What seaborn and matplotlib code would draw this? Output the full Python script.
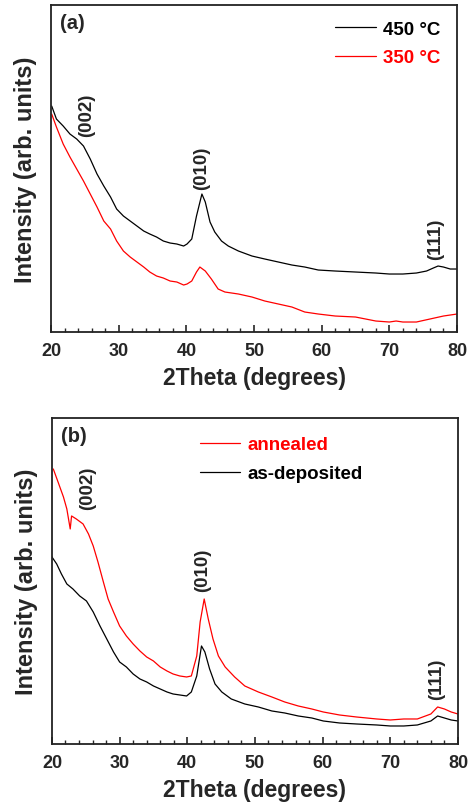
import matplotlib
matplotlib.use("Agg")
import matplotlib.pyplot as plt
import seaborn as sns
import pandas as pd
from matplotlib.ticker import MultipleLocator

# ---- data (arbitrary intensity units) ----
a_x_450 = [20.1, 20.8, 21.8, 22.8, 23.8, 24.8, 25.8, 26.8, 27.8, 28.8, 29.7, 30.7, 31.7, 32.7, 33.7, 34.6, 35.6,
           36.6, 37.6, 38.6, 39.6, 40.1, 40.8, 41.5, 42.3, 42.8, 43.5, 44.2, 45.2, 46.2, 47.7, 49.7, 51.6, 53.6,
           55.6, 57.5, 59.5, 62, 65, 68, 70, 72, 74, 75.5, 76.5, 77.2, 78, 79, 80]
a_y_450 = [226, 213, 206, 198, 193, 186, 173, 158, 146, 135, 123, 116, 111, 106, 101, 98, 95,
           91, 89, 88, 86, 88, 93, 116, 138, 130, 110, 100, 91, 86, 81, 76, 73, 70,
           67, 65, 62, 61, 60, 59, 58, 58, 59, 61, 64, 66, 65, 63, 63]
a_x_350 = [20.1, 20.8, 21.8, 22.8, 23.8, 24.8, 25.8, 26.8, 27.8, 28.8, 29.7, 30.7, 31.7, 32.7, 33.7, 34.6, 35.6,
           36.6, 37.6, 38.6, 39.6, 40.1, 40.8, 41.5, 42.0, 42.8, 43.7, 44.7, 45.7, 47.7, 49.7, 51.6, 53.6,
           55.6, 57.5, 59.5, 62, 65, 68, 70, 71, 72, 74, 76, 78, 80]
a_y_350 = [218, 205, 188, 175, 163, 151, 138, 125, 111, 103, 91, 81, 75, 70, 65, 60, 56,
           54, 51, 50, 47, 48, 51, 60, 65, 61, 53, 43, 40, 38, 35, 31, 28,
           25, 20, 18, 16, 15, 11, 10, 11, 10, 10, 13, 16, 18]

b_x_ann = [20.2, 20.9, 21.7, 22.2, 22.7, 22.9, 23.6, 24.6, 25.4, 26.1, 26.8, 27.6, 28.3, 29.1, 30.0, 31.0, 32.0,
           33.0, 34.0, 35.0, 36.0, 37.0, 37.9, 38.9, 39.9, 40.6, 41.4, 41.9, 42.5, 43.1, 43.8, 44.6, 45.6,
           47.0, 48.5, 50.5, 52.5, 54.4, 56.4, 58.4, 60.1, 62.5, 65, 68, 70, 72, 74, 76, 77, 78, 79, 80]
b_y_ann = [275, 262, 247, 235, 215, 228, 225, 220, 210, 198, 182, 162, 145, 132, 118, 108, 100,
           93, 87, 83, 77, 73, 70, 68, 67, 68, 88, 122, 145, 125, 105, 88, 77,
           67, 58, 52, 47, 42, 38, 35, 32, 29, 27, 25, 24, 25, 25, 30, 37, 35, 32, 30]
b_x_dep = [19.9, 20.7, 21.4, 22.2, 23.1, 24.1, 25.1, 26.1, 27.1, 28.1, 29.1, 30.0, 31.0, 32.0, 33.0, 34.0, 35.0,
           36.0, 37.0, 37.9, 38.9, 39.9, 40.6, 41.4, 42.1, 42.6, 43.3, 44.1, 45.1, 46.5, 48.5, 50.5, 52.5,
           54.4, 56.4, 58.4, 60.1, 62.5, 65, 68, 70, 72, 74, 76, 77, 78, 79, 80]
b_y_dep = [188, 180, 170, 160, 155, 148, 143, 132, 118, 105, 92, 82, 77, 70, 65, 62, 58,
           55, 52, 50, 49, 48, 52, 68, 98, 92, 75, 60, 52, 45, 40, 37, 33,
           31, 28, 26, 23, 21, 20, 19, 18, 18, 19, 23, 28, 26, 24, 23]

peak_labels = ["(002)", "(010)", "(111)"]
peak_pos = [25.2, 42.3, 76.9]
a_label_y = [196, 143, 73]
b_label_y = [235, 153, 45]

FONT = ["Liberation Sans", "DejaVu Sans"]
sns.set_theme(style="ticks")
plt.rcParams["font.family"] = FONT
plt.rcParams["font.weight"] = "bold"

fig = plt.figure(figsize=(4.68, 8.04), dpi=100)
ax_a = fig.add_axes([0.109, 0.5858, 0.8675, 0.4067])
ax_b = fig.add_axes([0.111, 0.0734, 0.8675, 0.4055])


def style_axis(ax, ymax):
    ax.set_xlim(20, 80)
    ax.set_ylim(0, ymax)
    ax.set_yticks([])
    ax.xaxis.set_major_locator(MultipleLocator(10))
    ax.xaxis.set_minor_locator(MultipleLocator(2))
    ax.tick_params(axis="x", which="major", direction="in", length=5, width=1.2,
                   labelsize=13, pad=7, top=False)
    ax.tick_params(axis="x", which="minor", direction="in", length=3, width=1.0, top=False)
    for lab in ax.get_xticklabels():
        lab.set_fontweight("bold")
    for s in ax.spines.values():
        s.set_visible(True)
        s.set_linewidth(1.3)
        s.set_color("#222222")
    ax.set_xlabel("2Theta (degrees)", fontsize=16.5, fontweight="bold", labelpad=5)
    ax.set_ylabel("Intensity (arb. units)", fontsize=17, fontweight="bold", labelpad=10)


LEG = dict(frameon=False, borderpad=0, borderaxespad=0, handlelength=2.15, handletextpad=0.4,
           labelspacing=0.62, prop={"weight": "bold", "size": 13.5, "family": FONT},
           labelcolor="linecolor", loc="upper left")

# Panel (a)
sns.lineplot(x=a_x_450, y=a_y_450, ax=ax_a, color="black", lw=0.9, label="450 °C")
sns.lineplot(x=a_x_350, y=a_y_350, ax=ax_a, color="red", lw=0.9, label="350 °C")
style_axis(ax_a, 327)
ax_a.legend(bbox_to_anchor=(0.70, 0.953), **LEG)
ax_a.text(0.022, 0.975, "(a)", transform=ax_a.transAxes, fontsize=14.5, fontweight="bold", va="top")
for lab, xp, yp in zip(peak_labels, peak_pos, a_label_y):
    ax_a.text(xp, yp, lab, rotation=90, ha="center", va="bottom", fontsize=13.5, fontweight="bold")

# Panel (b)
sns.lineplot(x=b_x_ann, y=b_y_ann, ax=ax_b, color="red", lw=0.9, label="annealed")
sns.lineplot(x=b_x_dep, y=b_y_dep, ax=ax_b, color="black", lw=0.9, label="as-deposited")
style_axis(ax_b, 326)
ax_b.legend(bbox_to_anchor=(0.3645, 0.944), **LEG)
ax_b.text(0.022, 0.975, "(b)", transform=ax_b.transAxes, fontsize=14.5, fontweight="bold", va="top")
for lab, xp, yp in zip(peak_labels, peak_pos, b_label_y):
    ax_b.text(xp, yp, lab, rotation=90, ha="center", va="bottom", fontsize=13.5, fontweight="bold")

fig.savefig("out.png", dpi=100)
